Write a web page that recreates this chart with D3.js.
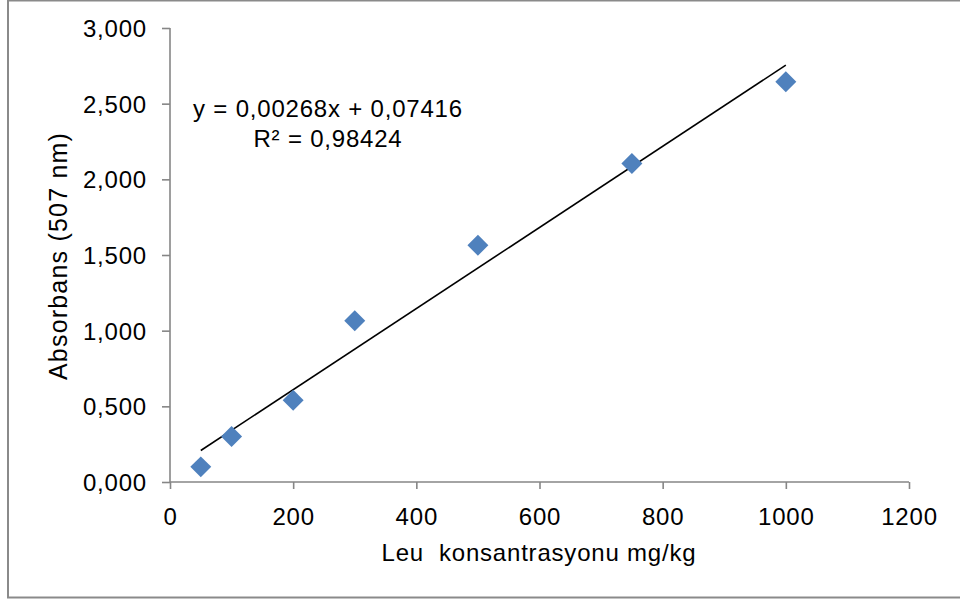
<!DOCTYPE html>
<html>
<head>
<meta charset="utf-8">
<script src="https://cdn.jsdelivr.net/npm/d3@7"></script>
<style>
  html, body { margin: 0; padding: 0; background: #fff; }
  svg { display: block; }
  text { font-family: "Liberation Sans", Arial, sans-serif; fill: #000; }
</style>
</head>
<body>
<svg id="chart" width="960" height="602"></svg>
<script>
// Leu calibration: concentration (mg/kg) vs absorbance at 507 nm
const concentrations = [50, 100, 200, 300, 500, 750, 1000];
const absorbances = [0.10, 0.30, 0.54, 1.065, 1.565, 2.105, 2.645];

// Linear trendline reported on the chart
const slope = 0.00268;
const intercept = 0.07416;
const rSquared = 0.98424;

const xTicks = [0, 200, 400, 600, 800, 1000, 1200];
const yTicks = [0, 0.5, 1, 1.5, 2, 2.5, 3];

const svg = d3.select("#chart");
const W = 960, H = 602;
const FONT = 24, SPACING = 0.8;

// outer chart frame
svg.append("rect")
  .attr("x", 8).attr("y", 0.5)
  .attr("width", W + 10).attr("height", 597)
  .attr("fill", "none").attr("stroke", "#8a8a8a").attr("stroke-width", 2);

const plot = { left: 170, right: 909, top: 28, bottom: 482 };

const x = d3.scaleLinear().domain([0, 1200]).range([plot.left, plot.right]);
const y = d3.scaleLinear().domain([0, 3]).range([plot.bottom, plot.top]);

const tr = d3.formatLocale({ decimal: ",", thousands: ".", grouping: [3], currency: ["", ""] });
const fmtY = tr.format(".3f");

// y axis
const yAxis = svg.append("g")
  .attr("transform", `translate(${plot.left},0)`)
  .call(d3.axisLeft(y).tickValues(yTicks).tickFormat(fmtY).tickSize(8).tickPadding(15));
// x axis
const xAxis = svg.append("g")
  .attr("transform", `translate(0,${plot.bottom})`)
  .call(d3.axisBottom(x).tickValues(xTicks).tickFormat(d3.format("d")).tickSize(7).tickPadding(19));

[yAxis, xAxis].forEach(g => {
  g.select(".domain").attr("stroke", "#868686").attr("stroke-width", 1.6);
  g.selectAll(".tick line").attr("stroke", "#868686").attr("stroke-width", 1.6);
  g.selectAll(".tick text")
    .attr("font-size", FONT)
    .attr("letter-spacing", SPACING)
    .attr("font-family", "'Liberation Sans', Arial, sans-serif")
    .attr("fill", "#000");
});
// plain axis lines without the default end caps
yAxis.select(".domain").attr("d", `M0,${plot.top}V${plot.bottom}`);
xAxis.select(".domain").attr("d", `M${plot.left},0H${plot.right}`);
yAxis.selectAll(".tick text").attr("dy", "0.35em");

// trendline over the measured range
const x0 = d3.min(concentrations), x1 = d3.max(concentrations);
svg.append("line")
  .attr("x1", x(x0)).attr("y1", y(slope * x0 + intercept))
  .attr("x2", x(x1)).attr("y2", y(slope * x1 + intercept))
  .attr("stroke", "#000").attr("stroke-width", 1.6);

// diamond markers
const diamond = d3.symbol().type(d3.symbolSquare).size(220);
svg.append("g").selectAll("path")
  .data(concentrations.map((c, i) => [c, absorbances[i]]))
  .join("path")
  .attr("d", diamond)
  .attr("transform", d => `translate(${x(d[0])},${y(d[1])}) rotate(45)`)
  .attr("fill", "#4F81BD");

// regression equation
const fmtEq = (v, p) => v.toFixed(p).replace(".", ",");
const eq = svg.append("text")
  .attr("text-anchor", "middle").attr("font-size", FONT)
  .attr("letter-spacing", SPACING);
eq.append("tspan").attr("x", 328).attr("y", 117)
  .text(`y = ${fmtEq(slope, 5)}x + ${fmtEq(intercept, 5)}`);
eq.append("tspan").attr("x", 328).attr("y", 147)
  .text(`R² = ${fmtEq(rSquared, 5)}`);

// axis titles
svg.append("text")
  .attr("x", 539).attr("y", 561)
  .attr("text-anchor", "middle").attr("font-size", FONT)
  .attr("letter-spacing", SPACING)
  .style("white-space", "pre")
  .text("Leu  konsantrasyonu mg/kg");

svg.append("text")
  .attr("transform", "translate(67,256) rotate(-90)")
  .attr("text-anchor", "middle").attr("font-size", 25)
  .attr("letter-spacing", 1.2)
  .text("Absorbans (507 nm)");
</script>
</body>
</html>
